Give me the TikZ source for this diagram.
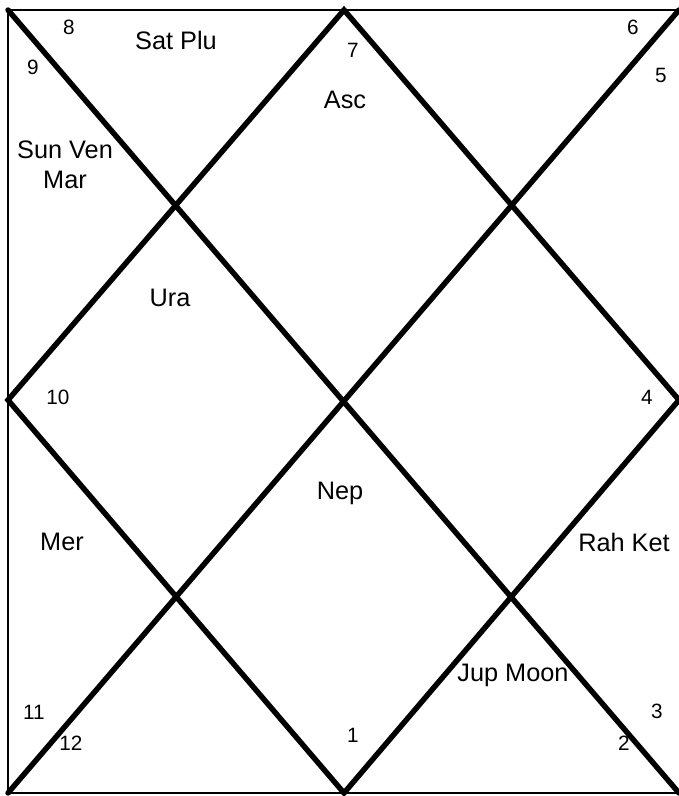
\documentclass[tikz,border=0pt]{standalone}
\usepackage{fontspec}
\setmainfont{Liberation Sans}
\usetikzlibrary{calc}
\tikzset{
  frame/.style={line width=1.6pt,draw=black},
  ray/.style={line width=3.1pt,draw=black,line cap=round,line join=miter},
  planet/.style={font=\fontsize{14.4}{17}\selectfont,align=center,inner sep=0pt},
  house/.style={font=\fontsize{11.8}{13}\selectfont,inner sep=0pt}
}

\begin{document}
\begin{tikzpicture}[x=0.02cm,y=-0.02cm]
  \useasboundingbox (0,0) rectangle (679,796);
  % corners and mid points
  \coordinate (tl) at (8,10);   \coordinate (tr) at (679,10);
  \coordinate (bl) at (8,793);  \coordinate (br) at (679,793);
  \coordinate (tm) at (344,10); \coordinate (bm) at (344,793);
  \coordinate (lm) at (8,400);  \coordinate (rm) at (679,400);
  \draw[frame] (tr) -- (tl) -- (bl) -- (br);
  \draw[ray] (tl) -- (br); \draw[ray] (tr) -- (bl);
  \draw[ray] (tm) -- (lm) -- (bm) -- (rm) -- cycle;
  % house numbers
  \node[house] (h1) at (353,735) {1};
  \node[house] (h2) at (624,743) {2};
  \node[house] (h3) at (657,711) {3};
  \node[house] (h4) at (647,397) {4};
  \node[house] (h5) at (661,75) {5};
  \node[house] (h6) at (633,27) {6};
  \node[house] (h7) at (353,50) {7};
  \node[house] (h8) at (69,27) {8};
  \node[house] (h9) at (33,67) {9};
  \node[house] (h10) at (58,397) {10};
  \node[house] (h11) at (34,712) {11};
  \node[house] (h12) at (71,743) {12};
  % planets
  \node[planet] (asc) at (345,100) {Asc};
  \node[planet] (satplu) at (176,40) {Sat Plu};
  \node[planet] (sunven) at (65,165) {Sun Ven\\Mar};
  \node[planet] (ura) at (170,298) {Ura};
  \node[planet] (nep) at (340,493) {Nep};
  \node[planet] (mer) at (62,542) {Mer};
  \node[planet] (rahket) at (624,542) {Rah Ket};
  \node[planet] (jupmoon) at (513,675) {Jup Moon};
\end{tikzpicture}
\end{document}
